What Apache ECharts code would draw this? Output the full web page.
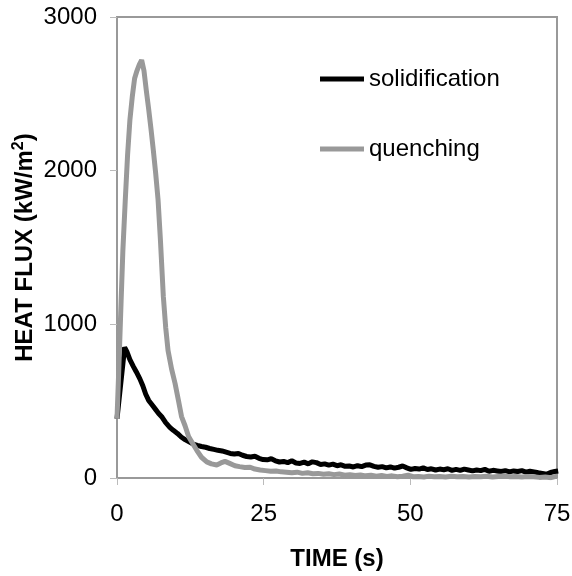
<!DOCTYPE html>
<html>
<head>
<meta charset="utf-8">
<script src="https://cdn.jsdelivr.net/npm/echarts@6/dist/echarts.min.js"></script>
<style>
  html, body { margin: 0; padding: 0; background: #fff; }
  #chart { width: 572px; height: 576px; }
</style>
</head>
<body>
<div id="chart"></div>
<script>
// time (s) and heat flux (kW/m2)
var solidTime = [0, 0.2, 1.3, 1.7, 2.2, 2.8, 3.3, 3.9, 4.4, 4.9, 5.4, 6.0, 6.6, 7.1, 7.7, 8.3, 9.0, 9.6, 10.3, 11.0,
  11.6, 12.3, 13.0, 13.7, 14.4, 15.1, 15.8, 16.5, 17.2, 17.9, 18.6, 19.3, 20.0, 20.7, 21.4, 22.1, 22.8, 23.5, 24.2, 24.9,
  25.6, 26.3, 27.0, 27.7, 28.4, 29.1, 29.8, 30.5, 31.2, 31.9, 32.6, 33.3, 34.0, 34.7, 35.4, 36.1, 36.8, 37.5, 38.2, 38.9,
  39.6, 40.3, 41.0, 41.7, 42.4, 43.1, 43.8, 44.5, 45.2, 45.9, 46.6, 47.3, 48.0, 48.7, 49.4, 50.1, 50.8, 51.5, 52.2, 52.9,
  53.6, 54.3, 55.0, 55.7, 56.4, 57.1, 57.8, 58.5, 59.2, 59.9, 60.6, 61.3, 62.0, 62.7, 63.4, 64.1, 64.8, 65.5, 66.2, 66.9,
  67.6, 68.3, 69.0, 69.7, 70.4, 71.1, 71.8, 72.5, 73.2, 73.9, 74.6, 75.2];
var solidFlux = [385, 385, 850, 820, 770, 725, 690, 645, 600, 545, 505, 475, 445, 420, 395, 360, 330, 310, 290, 265,
  250, 235, 220, 212, 205, 200, 192, 186, 180, 176, 168, 160, 156, 160, 148, 140, 137, 142, 128, 120,
  118, 125, 112, 104, 108, 100, 112, 98, 95, 103, 92, 105, 100, 88, 92, 84, 90, 80, 86, 76,
  78, 72, 80, 74, 84, 86, 76, 70, 74, 66, 72, 64, 70, 78, 66, 56, 62, 58, 66, 55,
  60, 52, 58, 54, 60, 50, 56, 50, 58, 52, 46, 52, 48, 56, 44, 50, 46, 42, 48, 40,
  46, 42, 48, 38, 44, 40, 34, 30, 24, 36, 42, 46];

var quenchTime = [0, 0.3, 0.7, 1.0, 1.4, 1.8, 2.2, 2.6, 3.0, 3.4, 3.8, 4.2, 4.6, 5.0, 5.4, 5.8, 6.2, 6.6, 7.0, 7.4,
  7.9, 8.3, 8.7, 9.3, 9.9, 10.5, 11.0, 11.6, 12.2, 12.9, 13.6, 14.4, 15.3, 16.1, 17.0, 17.7, 18.4, 19.2, 20.1, 20.9,
  21.8, 22.7, 23.5, 24.4, 25.3, 26.2, 27.1, 28.0, 28.9, 29.8, 30.7, 31.6, 32.5, 33.4, 34.3, 35.2, 36.1, 37.0, 37.9, 38.8,
  39.7, 40.6, 41.5, 42.4, 43.3, 44.2, 45.1, 46.0, 46.9, 47.8, 48.7, 49.6, 50.5, 51.4, 52.3, 53.2, 54.1, 55.0, 56.0, 57.0,
  58.0, 59.0, 60.0, 61.0, 62.0, 63.0, 64.0, 65.0, 66.0, 67.0, 68.0, 69.0, 70.0, 71.0, 72.0, 73.0, 74.0, 75.0];
var quenchFlux = [385, 700, 1150, 1480, 1800, 2100, 2330, 2480, 2600, 2650, 2690, 2720, 2650, 2520, 2400, 2270, 2130, 1980, 1810, 1550,
  1180, 980, 830, 710, 615, 500, 400, 340, 270, 225, 180, 135, 105, 92, 85, 98, 108, 95, 80, 74,
  68, 70, 58, 52, 48, 44, 46, 40, 38, 34, 38, 30, 34, 28, 30, 24, 28, 22, 26, 18,
  22, 16, 20, 14, 18, 12, 16, 10, 14, 8, 12, 18, 8, 10, 6, 12, 8, 10, 6, 12,
  8, 10, 6, 10, 8, 12, 6, 10, 14, 8, 10, 6, 10, 8, 4, 6, 2, 12];

var xTicks = [0, 25, 50, 75];
var yTicks = [0, 1000, 2000, 3000];

function pairs(t, v) {
  var res = [];
  for (var i = 0; i < t.length; i++) {
    res.push([t[i], v[i]]);
  }
  return res;
}

var myChart = echarts.init(document.getElementById('chart'));
var font = 'Liberation Sans, Arial, sans-serif';
var axisGrey = '#999999';

var option = {
  animation: false,
  textStyle: { fontFamily: font, color: '#000' },
  grid: {
    left: 117, right: 15, top: 17, bottom: 98,
    outerBoundsMode: 'none',
    containLabel: false,
    show: true, borderColor: axisGrey, borderWidth: 2, backgroundColor: '#fff'
  },
  legend: {
    orient: 'vertical',
    left: 320,
    top: 67,
    padding: 0,
    itemGap: 46,
    itemWidth: 44,
    itemHeight: 5,
    icon: 'rect',
    textStyle: { fontSize: 24, color: '#000', fontFamily: font },
    data: ['solidification', 'quenching']
  },
  xAxis: {
    type: 'value',
    min: xTicks[0],
    max: xTicks[xTicks.length - 1],
    interval: xTicks[1] - xTicks[0],
    name: 'TIME (s)',
    nameLocation: 'middle',
    nameGap: 69,
    nameMoveOverlap: false,
    nameTextStyle: { fontSize: 24, fontWeight: 'bold', color: '#000', fontFamily: font },
    axisLine: { show: true, onZero: false, lineStyle: { color: axisGrey, width: 2 } },
    axisTick: { show: true, length: 7, lineStyle: { color: '#bbbbbb', width: 1 } },
    axisLabel: {
      fontSize: 24, color: '#000', margin: 24, fontFamily: font,
      formatter: function (v) { return String(v); }
    },
    splitLine: { show: false }
  },
  yAxis: {
    type: 'value',
    min: yTicks[0],
    max: yTicks[yTicks.length - 1],
    interval: yTicks[1] - yTicks[0],
    name: 'HEAT FLUX (kW/m{sup|2})',
    nameLocation: 'middle',
    nameGap: 78,
    nameMoveOverlap: false,
    nameTextStyle: {
      fontSize: 24, fontWeight: 'bold', color: '#000', fontFamily: font,
      rich: {
        sup: { fontSize: 16, fontWeight: 'bold', color: '#000', fontFamily: font, padding: [0, 0, 12, 0] }
      }
    },
    axisLine: { show: true, onZero: false, lineStyle: { color: axisGrey, width: 2 } },
    axisTick: { show: true, length: 7, lineStyle: { color: '#bbbbbb', width: 1 } },
    axisLabel: {
      fontSize: 24, color: '#000', margin: 20, fontFamily: font,
      formatter: function (v) { return String(v); }
    },
    splitLine: { show: false }
  },
  series: [
    {
      name: 'solidification',
      type: 'line',
      showSymbol: false,
      symbol: 'none',
      color: '#000000',
      lineStyle: { color: '#000000', width: 5 },
      data: pairs(solidTime, solidFlux)
    },
    {
      name: 'quenching',
      type: 'line',
      showSymbol: false,
      symbol: 'none',
      color: '#999999',
      lineStyle: { color: '#999999', width: 5 },
      data: pairs(quenchTime, quenchFlux)
    }
  ]
};

myChart.setOption(option);
</script>
</body>
</html>
